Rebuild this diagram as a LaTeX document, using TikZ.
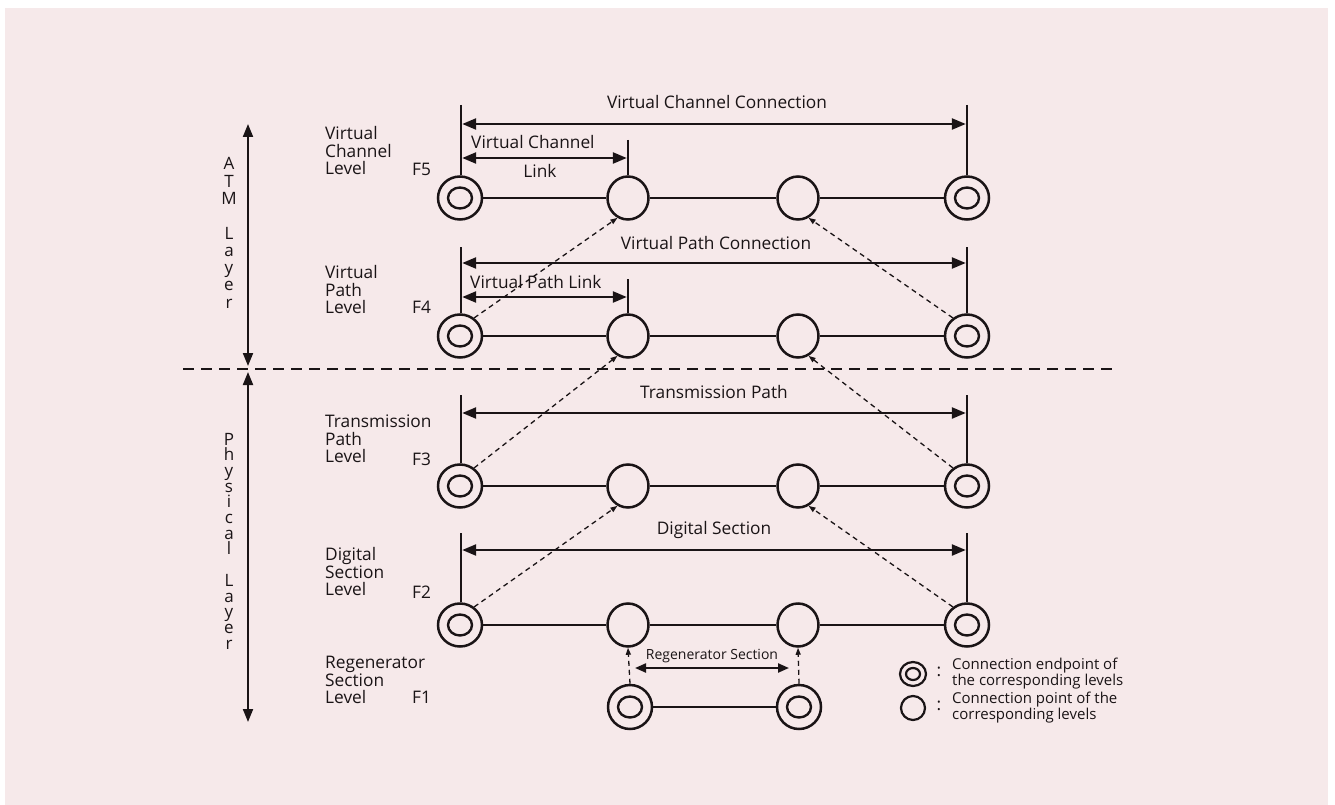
\documentclass[tikz,border=0pt]{standalone}
\usepackage{fontspec}
\setmainfont{Open Sans}
\usetikzlibrary{shapes.geometric,arrows.meta}
\definecolor{bg}{RGB}{246,233,234}
\definecolor{ink}{RGB}{26,20,22}
\begin{document}
\begin{tikzpicture}[x=1pt,y=-1pt,
  every node/.style={font=\fontsize{17.3}{17.5}\selectfont, text=ink, inner sep=0pt},
  pt/.style={draw=ink, line width=2.5pt, ellipse, minimum width=41pt, minimum height=43pt},
  ept/.style={pt, minimum width=44pt, minimum height=43pt,
    path picture={\draw[ink,line width=2.4pt] (path picture bounding box.center) ellipse [x radius=12pt, y radius=10.5pt];}},
  lpt/.style={draw=ink, line width=2.2pt, ellipse, minimum width=24pt, minimum height=24pt},
  lept/.style={lpt, minimum width=26pt, minimum height=24pt,
    path picture={\draw[ink,line width=2.2pt] (path picture bounding box.center) ellipse [x radius=7pt, y radius=6pt];}},
  lnk/.style={draw=ink, line width=2.4pt},
  arr/.style={draw=ink, line width=2.4pt, shorten <=1.2pt, shorten >=1.2pt,
    {Triangle[length=14pt,width=11pt]}-{Triangle[length=14pt,width=11pt]}},
  sarr/.style={draw=ink, line width=2.2pt,
    {Triangle[length=11pt,width=9pt]}-{Triangle[length=11pt,width=9pt]}},
  larr/.style={draw=ink, line width=2pt,
    {Triangle[length=13pt,width=10pt]}-{Triangle[length=13pt,width=10pt]}},
  dsh/.style={draw=ink, line width=1.3pt, dash pattern=on 5pt off 4pt,
    -{Triangle[length=7pt,width=5pt]}},
  lbl/.style={align=left, anchor=west},
  vlbl/.style={align=center},
]
\useasboundingbox (0,0) rectangle (1335,805);
\fill[white] (0,0) rectangle (1335,805);
\fill[bg] (5,8) rectangle (1328,805);

% rows of connection points
\foreach \r/\y in {5/198,4/336,3/486,2/625} {
  \node[ept] (a\r) at (460,\y) {};
  \node[pt]  (b\r) at (628,\y) {};
  \node[pt]  (c\r) at (798,\y) {};
  \node[ept] (d\r) at (967,\y) {};
  \draw[lnk] (a\r) -- (b\r) -- (c\r) -- (d\r);
}
% ticks and connection arrows
\foreach \r/\t/\c in {5/105/124,4/247/263,3/395/413,2/533/550} {
  \coordinate (ta\r) at (461,\t);
  \coordinate (td\r) at (967,\t);
  \draw[lnk] (ta\r) -- (a\r.north -| ta\r);
  \draw[lnk] (td\r) -- (d\r.north);
  \coordinate (ca\r) at (461,\c);
  \coordinate (cd\r) at (967,\c);
  \draw[arr] (ca\r) -- (cd\r);
}
% link ticks and arrows
\coordinate (tb5) at (628,140);
\coordinate (tb4) at (628,279);
\draw[lnk] (tb5) -- (b5.north);
\draw[lnk] (tb4) -- (b4.north);
\coordinate (la5) at (461,158); \coordinate (lb5) at (628,158);
\coordinate (la4) at (461,297); \coordinate (lb4) at (628,297);
\draw[arr] (la5) -- (lb5);
\draw[arr] (la4) -- (lb4);

% labels of arrows
\node (vcc) at (717,102) {Virtual Channel Connection};
\node[anchor=west] (vcl) at (471,142) {Virtual Channel};
\node (vcl2) at (540,171) {Link};
\node (vpc) at (716,243) {Virtual Path Connection};
\node[anchor=west] (vpl) at (470,282) {Virtual Path Link};
\node (tp) at (714,392) {Transmission Path};
\node (ds) at (714,530) {Digital Section};

% regenerator section level
\node[ept, minimum width=44pt, minimum height=44pt] (e1) at (630,707) {};
\node[ept, minimum width=44pt, minimum height=44pt] (f1) at (799,707) {};
\draw[lnk] (e1) -- (f1);
\draw[dsh] (e1.north) -- (b2.south);
\draw[dsh] (f1.north) -- (c2.south);
\coordinate (r1) at (635,668);
\coordinate (r2) at (789,668);
\draw[sarr] (r1) -- (r2);
\node[font=\fontsize{14}{15}\selectfont] (rs) at (712,656) {Regenerator Section};

% diagonal dashed arrows
\draw[dsh] (a4.52) -- (b5.-118);
\draw[dsh] (d4.128) -- (c5.-62);
\draw[dsh] (a3.52) -- (b4.-118);
\draw[dsh] (d3.128) -- (c4.-62);
\draw[dsh] (a2.52) -- (b3.-118);
\draw[dsh] (d2.128) -- (c3.-62);

% level labels
\node[lbl] (l5) at (325,151) {Virtual\\Channel\\Level};
\node[anchor=west] (f5) at (412,169) {F5};
\node[lbl] (l4) at (325,290) {Virtual\\Path\\Level};
\node[anchor=west] (f4) at (412,307) {F4};
\node[lbl] (l3) at (325,439) {Transmission\\Path\\Level};
\node[anchor=west] (f3) at (412,459) {F3};
\node[lbl] (l2) at (325,572) {Digital\\Section\\Level};
\node[anchor=west] (f2) at (412,592) {F2};
\node[lbl] (l1) at (325,680) {Regenerator\\Section\\Level};
\node[anchor=west] (f1l) at (412,697) {F1};

% layer division
\coordinate (dl) at (183,369);
\coordinate (dr) at (1113,369);
\draw[ink, line width=2.2pt, dash pattern=on 11pt off 7pt] (dl) -- (dr);
\coordinate (atop) at (248,124);
\coordinate (abot) at (248,366);
\coordinate (ptop) at (248,372);
\coordinate (pbot) at (248,722);
\draw[larr] (atop) -- (abot);
\draw[larr] (ptop) -- (pbot);
\node[vlbl, font=\fontsize{17}{17.3}\selectfont] (atm) at (229,233) {A\\T\\M\\~\\L\\a\\y\\e\\r};
\node[vlbl, font=\fontsize{17}{15.7}\selectfont] (phy) at (229,541) {P\\h\\y\\s\\i\\c\\a\\l\\~\\L\\a\\y\\e\\r};

% legend
\node[lept] (le) at (913,674) {};
\node[lpt] (lp) at (913,708) {};
\node (lc1) at (939,672) {:};
\node (lc2) at (939,706) {:};
\node[lbl, font=\fontsize{15}{14.5}\selectfont] (lt1) at (952,674) {Connection endpoint of\\the corresponding levels};
\node[lbl, font=\fontsize{15}{14.5}\selectfont] (lt2) at (952,708) {Connection point of the\\corresponding levels};
\end{tikzpicture}
\end{document}
